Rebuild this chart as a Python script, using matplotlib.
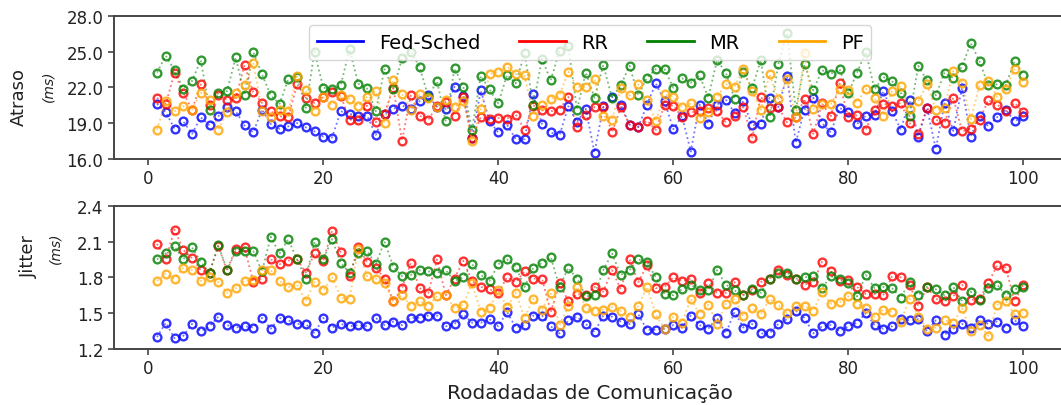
import matplotlib
matplotlib.use("Agg")
import matplotlib.pyplot as plt
from matplotlib.lines import Line2D
from matplotlib.ticker import FormatStrFormatter

rounds = list(range(1, 101))
series_names = ["Fed-Sched", "RR", "MR", "PF"]
series_colors = ["blue", "red", "green", "orange"]

# Atraso (ms) por rodada
delay_fed = [20.62, 19.91, 18.53, 19.15, 18.11, 19.49, 18.81, 19.57, 20.34, 20.00,
             18.81, 18.22, 20.14, 18.93, 18.53, 18.73, 19.01, 18.65, 18.31, 17.88,
             17.80, 20.00, 19.80, 19.57, 19.63, 18.02, 19.77, 20.20, 20.48, 20.20,
             20.84, 21.32, 20.34, 20.20, 22.05, 21.27, 17.80, 21.74, 19.15, 18.22,
             18.87, 17.66, 17.66, 21.41, 18.93, 18.22, 17.97, 20.42, 19.10, 20.20,
             16.53, 20.42, 21.21, 20.56, 18.87, 18.67, 20.56, 22.33, 20.84, 18.50,
             19.60, 16.62, 20.56, 18.96, 20.56, 20.98, 19.86, 20.84, 18.81, 18.96,
             21.13, 20.34, 22.96, 17.38, 20.14, 21.13, 19.00, 18.22, 20.28, 19.91,
             18.93, 19.63, 19.72, 21.69, 20.00, 18.45, 20.90, 17.88, 20.28, 16.84,
             20.65, 18.36, 21.97, 17.88, 19.63, 18.73, 19.49, 20.14, 19.15, 19.57]
delay_rr = [21.13, 20.60, 23.24, 21.55, 20.14, 22.25, 20.56, 21.32, 20.98, 21.13,
            23.86, 21.60, 20.70, 20.00, 19.57, 19.49, 22.25, 21.13, 20.70, 21.20,
            21.60, 21.30, 19.29, 19.29, 20.48, 19.10, 19.80, 21.97, 17.52, 21.32,
            19.63, 19.29, 20.42, 20.76, 19.63, 21.18, 17.74, 19.49, 19.38, 19.43,
            19.38, 19.72, 18.45, 20.48, 20.08, 20.00, 20.14, 21.21, 18.67, 19.70,
            20.36, 20.36, 18.22, 20.34, 18.87, 18.67, 19.21, 18.45, 20.50, 20.48,
            19.49, 19.91, 20.00, 20.28, 20.00, 19.07, 19.63, 20.34, 17.74, 21.21,
            20.28, 20.34, 19.07, 19.49, 21.04, 18.11, 20.65, 19.57, 22.33, 19.49,
            19.66, 18.45, 20.14, 20.62, 20.48, 20.70, 19.01, 18.08, 20.28, 19.29,
            19.01, 21.13, 18.31, 18.53, 19.29, 20.93, 20.56, 20.00, 20.70, 19.91]
delay_mr = [23.24, 24.65, 23.44, 21.89, 22.53, 24.28, 20.14, 21.55, 21.69, 24.51,
            21.32, 24.93, 23.10, 21.32, 20.62, 22.67, 22.90, 20.28, 24.98, 21.97,
            21.83, 22.17, 25.21, 22.30, 21.91, 20.00, 23.52, 21.83, 24.42, 24.98,
            23.74, 21.21, 22.53, 19.15, 23.60, 22.05, 18.45, 22.96, 21.83, 20.65,
            23.04, 22.33, 24.84, 20.56, 24.37, 22.59, 25.07, 25.44, 20.14, 23.24,
            21.13, 23.86, 21.13, 22.17, 23.80, 21.32, 22.82, 23.52, 23.52, 21.97,
            22.76, 22.39, 23.01, 21.13, 24.28, 23.24, 21.04, 23.30, 21.91, 24.28,
            19.49, 23.94, 26.56, 20.14, 23.94, 21.74, 23.44, 23.15, 23.52, 21.50,
            23.24, 24.98, 21.83, 22.87, 22.53, 21.55, 19.57, 23.80, 22.59, 21.32,
            23.24, 22.76, 23.74, 25.72, 24.17, 22.17, 22.25, 22.17, 24.17, 23.04]
delay_pf = [18.45, 20.84, 20.00, 20.42, 20.14, 21.55, 20.93, 18.45, 19.94, 21.49,
            22.17, 24.08, 20.00, 19.52, 20.14, 20.00, 22.96, 21.74, 20.00, 21.18,
            20.50, 21.32, 21.04, 20.42, 21.21, 21.69, 19.01, 22.59, 21.46, 20.14,
            21.41, 21.13, 20.36, 20.93, 20.34, 20.84, 17.52, 20.20, 23.10, 23.32,
            23.74, 23.10, 23.01, 19.63, 20.50, 21.04, 21.32, 23.32, 22.05, 22.05,
            22.67, 19.57, 19.29, 21.97, 21.32, 22.25, 20.93, 19.15, 21.41, 21.21,
            20.34, 20.65, 19.43, 19.91, 21.18, 22.25, 22.05, 23.52, 21.69, 20.14,
            23.10, 21.04, 22.67, 19.52, 24.87, 20.20, 20.62, 20.62, 21.83, 21.74,
            20.70, 21.89, 21.13, 19.63, 21.69, 22.11, 20.20, 20.84, 22.25, 20.14,
            20.28, 23.38, 22.39, 19.35, 22.17, 22.53, 21.21, 21.83, 23.52, 22.47]

# Jitter (ms) por rodada
jitter_fed = [1.30, 1.42, 1.29, 1.31, 1.41, 1.35, 1.39, 1.47, 1.40, 1.38,
              1.39, 1.38, 1.46, 1.37, 1.46, 1.44, 1.41, 1.41, 1.33, 1.46,
              1.38, 1.41, 1.39, 1.40, 1.39, 1.46, 1.40, 1.43, 1.40, 1.46,
              1.46, 1.48, 1.48, 1.39, 1.41, 1.49, 1.42, 1.42, 1.45, 1.39,
              1.51, 1.38, 1.40, 1.48, 1.48, 1.39, 1.33, 1.44, 1.47, 1.41,
              1.34, 1.48, 1.47, 1.43, 1.41, 1.49, 1.36, 1.36, 1.37, 1.40,
              1.38, 1.48, 1.40, 1.37, 1.46, 1.33, 1.51, 1.38, 1.41, 1.33,
              1.33, 1.41, 1.45, 1.52, 1.46, 1.33, 1.39, 1.40, 1.35, 1.39,
              1.42, 1.50, 1.40, 1.37, 1.39, 1.45, 1.44, 1.45, 1.35, 1.44,
              1.32, 1.37, 1.41, 1.38, 1.44, 1.41, 1.43, 1.38, 1.44, 1.39]
jitter_rr = [2.08, 1.95, 2.20, 2.03, 1.96, 1.86, 1.84, 2.06, 1.86, 2.04,
             2.05, 1.76, 1.79, 1.95, 1.91, 1.94, 1.95, 1.84, 2.00, 1.94,
             2.19, 2.01, 1.81, 2.05, 1.93, 1.88, 1.79, 1.60, 1.71, 1.92,
             1.71, 1.67, 1.95, 1.65, 1.79, 1.94, 1.77, 1.72, 1.70, 1.67,
             1.80, 1.76, 1.85, 1.79, 1.79, 1.51, 1.75, 1.60, 1.66, 1.65,
             1.72, 1.68, 1.86, 1.70, 1.95, 1.76, 1.90, 1.71, 1.72, 1.80,
             1.77, 1.79, 1.67, 1.75, 1.67, 1.67, 1.76, 1.65, 1.69, 1.76,
             1.79, 1.86, 1.82, 1.79, 1.74, 1.76, 1.93, 1.85, 1.77, 1.78,
             1.72, 1.66, 1.66, 1.65, 1.81, 1.80, 1.74, 1.56, 1.72, 1.62,
             1.60, 1.64, 1.74, 1.61, 1.62, 1.75, 1.90, 1.88, 1.60, 1.74]
jitter_mr = [1.95, 2.00, 2.06, 1.95, 2.05, 1.93, 1.84, 2.07, 1.86, 2.02,
             2.02, 2.02, 1.85, 2.14, 2.00, 2.12, 1.95, 1.79, 2.10, 1.95,
             2.12, 1.92, 1.84, 2.00, 2.02, 1.91, 2.10, 1.89, 1.81, 1.82,
             1.86, 1.85, 1.84, 1.86, 1.77, 1.80, 1.91, 1.82, 1.77, 1.91,
             1.95, 1.89, 1.72, 1.88, 1.92, 1.97, 1.72, 1.88, 1.79, 1.64,
             1.65, 1.86, 2.00, 1.82, 1.86, 1.95, 1.93, 1.80, 1.66, 1.65,
             1.70, 1.74, 1.69, 1.69, 1.86, 1.74, 1.69, 1.65, 1.70, 1.67,
             1.79, 1.84, 1.84, 1.79, 1.80, 1.81, 1.71, 1.81, 1.79, 1.75,
             1.64, 1.82, 1.71, 1.72, 1.71, 1.63, 1.76, 1.65, 1.72, 1.70,
             1.65, 1.72, 1.60, 1.68, 1.61, 1.71, 1.74, 1.65, 1.70, 1.72]
jitter_pf = [1.77, 1.83, 1.79, 1.88, 1.86, 1.77, 1.80, 1.76, 1.67, 1.71,
             1.77, 1.78, 1.86, 1.86, 1.77, 1.72, 1.74, 1.60, 1.76, 1.69,
             1.80, 1.63, 1.62, 2.04, 1.81, 1.79, 1.75, 1.60, 1.65, 1.56,
             1.60, 1.56, 1.64, 1.65, 1.54, 1.57, 1.75, 1.51, 1.54, 1.69,
             1.55, 1.67, 1.46, 1.62, 1.53, 1.67, 1.40, 1.56, 1.72, 1.54,
             1.52, 1.53, 1.55, 1.52, 1.47, 1.56, 1.72, 1.49, 1.37, 1.47,
             1.42, 1.62, 1.49, 1.57, 1.41, 1.58, 1.62, 1.48, 1.54, 1.49,
             1.62, 1.57, 1.50, 1.56, 1.56, 1.52, 1.68, 1.58, 1.59, 1.64,
             1.58, 1.54, 1.47, 1.53, 1.51, 1.43, 1.62, 1.47, 1.37, 1.38,
             1.44, 1.42, 1.54, 1.35, 1.40, 1.31, 1.57, 1.60, 1.49, 1.50]

x_ticks = [0, 20, 40, 60, 80, 100]
delay_ticks = [16.0, 19.0, 22.0, 25.0, 28.0]
jitter_ticks = [1.2, 1.5, 1.8, 2.1, 2.4]

W, H = 1061, 406
fig = plt.figure(figsize=(W / 100, H / 100), dpi=100)


def px_box(left, top, right, bottom):
    return [left / W, 1 - bottom / H, (right - left) / W, (bottom - top) / H]


ax_delay = fig.add_axes(px_box(113.7, 16.7, 1066.6, 160.0))
ax_jitter = fig.add_axes(px_box(113.7, 206.7, 1066.6, 350.0))

spine_color = "#454545"
panels = [
    (ax_delay, [delay_fed, delay_rr, delay_mr, delay_pf], delay_ticks),
    (ax_jitter, [jitter_fed, jitter_rr, jitter_mr, jitter_pf], jitter_ticks),
]
for ax, data, yticks in panels:
    for vals, col in zip(data, series_colors):
        ax.plot(rounds, vals, linestyle=":", linewidth=1.3, color=col, alpha=0.55)
        ax.plot(rounds, vals, linestyle="none", marker="o", markersize=5.6,
                markerfacecolor="none", markeredgecolor=col,
                markeredgewidth=1.7, alpha=0.8)
    ax.set_xlim(-3.95, 104.95)
    ax.set_ylim(yticks[0], yticks[-1])
    ax.set_xticks(x_ticks)
    ax.set_yticks(yticks)
    ax.yaxis.set_major_formatter(FormatStrFormatter("%.1f"))
    for sp in ax.spines.values():
        sp.set_color(spine_color)
        sp.set_linewidth(1.4)
    ax.tick_params(labelsize=12, colors=spine_color, labelcolor="#222222",
                   length=4, width=1.2)

handles = [Line2D([0], [0], color=c, linewidth=2) for c in series_colors]
ax_delay.legend(handles, series_names, loc="upper center", ncol=4, fontsize=14,
                handlelength=2.4)

ax_jitter.set_xlabel("Rodadadas de Comunicação", fontsize=14.5, color="#222222")

fig.text(18.8 / W, 1 - 97 / H, "Atraso", rotation=90, ha="center", va="center",
         fontsize=13, color="#222222")
fig.text(48.5 / W, 1 - 86 / H, "(ms)", rotation=90, ha="center", va="center",
         fontsize=10, style="italic", color="#222222")
fig.text(29 / W, 1 - 256 / H, "Jitter", rotation=90, ha="center", va="center",
         fontsize=13, color="#222222")
fig.text(55 / W, 1 - 248 / H, "(ms)", rotation=90, ha="center", va="center",
         fontsize=10, style="italic", color="#222222")

fig.savefig("out.png", dpi=100)
